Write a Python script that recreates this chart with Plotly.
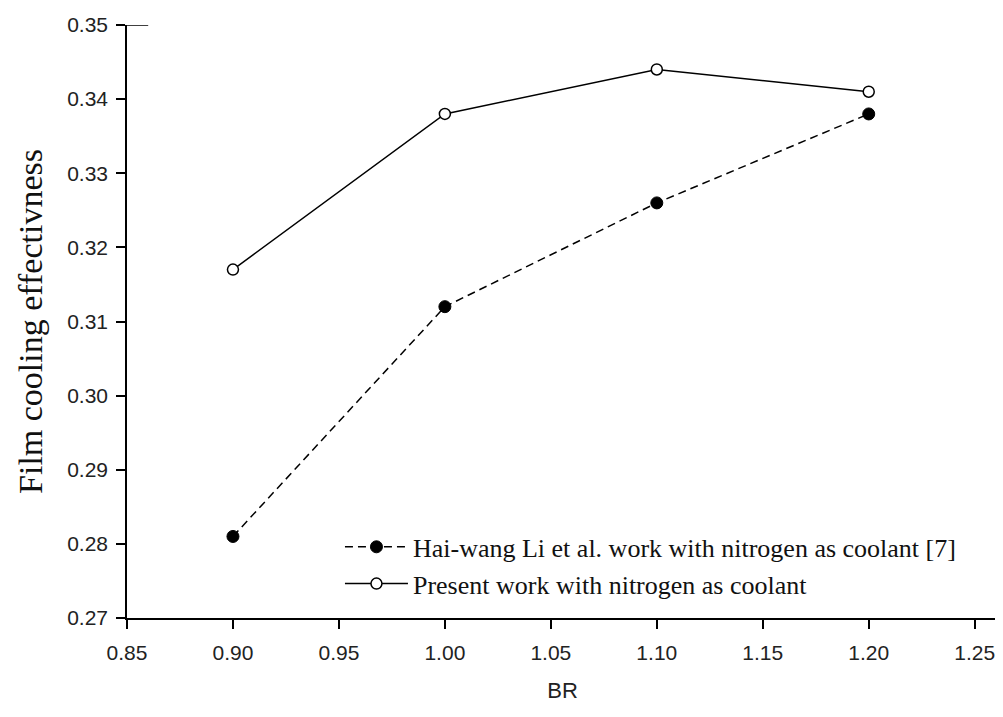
import plotly.graph_objects as go

# Data
br = [0.90, 1.00, 1.10, 1.20]
li_et_al = [0.281, 0.312, 0.326, 0.338]
present_work = [0.317, 0.338, 0.344, 0.341]

x_ticks = [0.85, 0.90, 0.95, 1.00, 1.05, 1.10, 1.15, 1.20, 1.25]
y_ticks = [0.27, 0.28, 0.29, 0.30, 0.31, 0.32, 0.33, 0.34, 0.35]

x_range = [0.85, 1.261]
y_range = [0.27, 0.35]

name_li = "Hai-wang Li et al. work with nitrogen as coolant [7]"
name_present = "Present work with nitrogen as coolant"

fig = go.Figure()

fig.add_trace(go.Scatter(
    x=br, y=li_et_al, mode="lines+markers", name=name_li,
    line=dict(color="black", width=1.5, dash="8px,5px"),
    marker=dict(symbol="circle", size=12, color="black",
                line=dict(color="black", width=1)),
))
fig.add_trace(go.Scatter(
    x=br, y=present_work, mode="lines+markers", name=name_present,
    line=dict(color="black", width=1.5),
    marker=dict(symbol="circle", size=11, color="white",
                line=dict(color="black", width=1.5)),
))

tick_font = dict(family="Liberation Sans, Arial, sans-serif", size=21, color="#222")

fig.update_layout(
    width=995, height=709,
    margin=dict(l=119, r=5, t=15, b=99),
    paper_bgcolor="white", plot_bgcolor="white",
    showlegend=True,
    legend=dict(
        x=0.2445, y=0.0887, xanchor="left", yanchor="middle",
        font=dict(family="Liberation Serif, Times New Roman, serif", size=26, color="#111"),
        bgcolor="rgba(0,0,0,0)", itemwidth=63, tracegroupgap=0,
    ),
    xaxis=dict(
        range=x_range, tickmode="array", tickvals=x_ticks,
        ticktext=[f"{v:.2f}" for v in x_ticks],
        showgrid=False, zeroline=False,
        showline=True, linecolor="black", linewidth=1.5,
        ticks="outside", ticklen=9, tickwidth=1.5, tickcolor="black",
        tickfont=tick_font, ticklabelstandoff=6,
        title=dict(text="BR", font=dict(family="Liberation Sans, Arial, sans-serif",
                                         size=22, color="#222"), standoff=20),
    ),
    yaxis=dict(
        range=y_range, tickmode="array", tickvals=y_ticks,
        ticktext=[f"{v:.2f}" for v in y_ticks],
        showgrid=False, zeroline=False,
        showline=True, linecolor="black", linewidth=1.5,
        ticks="outside", ticklen=9, tickwidth=1.5, tickcolor="black",
        tickfont=tick_font, ticklabelstandoff=4,
        title=dict(text="Film cooling effectivness",
                   font=dict(family="Liberation Serif, Times New Roman, serif",
                             size=34, color="#111"), standoff=14),
    ),
)

# small top-left stub of the frame at the top of the y axis
fig.add_shape(type="line", xref="x", yref="y",
              x0=x_range[0], x1=x_range[0] + 0.01, y0=y_range[1], y1=y_range[1],
              line=dict(color="black", width=1.5))

fig.write_html("out.html")
